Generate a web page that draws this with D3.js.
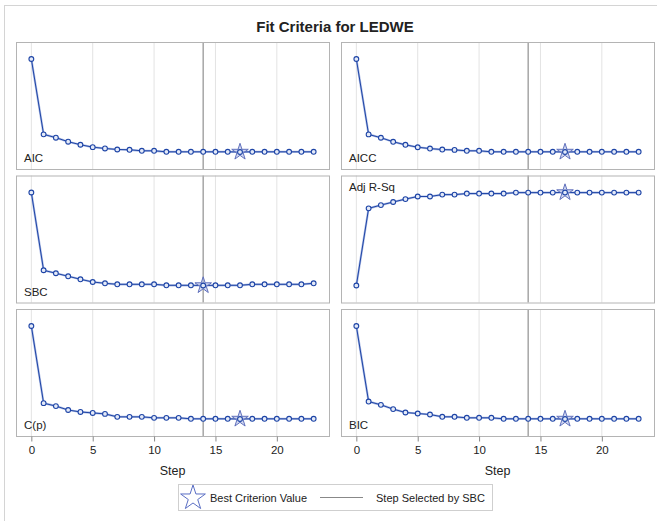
<!DOCTYPE html>
<html>
<head>
<meta charset="utf-8">
<script src="https://cdn.jsdelivr.net/npm/d3@7"></script>
<style>
  body { margin: 0; background: #fff; }
  text { font-family: Arial, "Liberation Sans", sans-serif; fill: #222; }
</style>
</head>
<body>
<script>
const steps = d3.range(0, 24);
const xTicks = [0, 5, 10, 15, 20];
const selectedStep = 14;

const aic  = [2372, 1625, 1592, 1552, 1522, 1498, 1485, 1475, 1472, 1462, 1462, 1452, 1452, 1452, 1452, 1452, 1452, 1450, 1452, 1452, 1452, 1452, 1452, 1452];
const aicc = [2373, 1627, 1594, 1554, 1524, 1500, 1487, 1477, 1474, 1465, 1465, 1455, 1455, 1455, 1455, 1455, 1455, 1453, 1455, 1455, 1455, 1455, 1455, 1455];
const sbc  = [2408, 1632, 1602, 1572, 1542, 1515, 1502, 1492, 1492, 1492, 1492, 1482, 1482, 1482, 1480, 1482, 1482, 1482, 1492, 1492, 1492, 1492, 1492, 1502];
const adjRsq = [0, 0.656, 0.684, 0.710, 0.735, 0.757, 0.757, 0.773, 0.773, 0.782, 0.782, 0.782, 0.782, 0.790, 0.790, 0.790, 0.790, 0.791, 0.790, 0.790, 0.790, 0.790, 0.790, 0.790];
const cp   = [972, 182, 152, 112, 92, 82, 72, 42, 42, 42, 32, 32, 32, 22, 22, 22, 22, 20, 22, 22, 22, 22, 22, 22];
const bic  = [2402, 1645, 1612, 1569, 1535, 1525, 1515, 1492, 1492, 1482, 1482, 1482, 1472, 1472, 1472, 1472, 1472, 1470, 1472, 1472, 1472, 1472, 1472, 1472];

const panels = [
  { name: "AIC", values: aic, col: 0, row: 0, best: "min" },
  { name: "AICC", values: aicc, col: 1, row: 0, best: "min" },
  { name: "SBC", values: sbc, col: 0, row: 1, best: "min" },
  { name: "Adj R-Sq", values: adjRsq, col: 1, row: 1, best: "max" },
  { name: "C(p)", values: cp, col: 0, row: 2, best: "min" },
  { name: "BIC", values: bic, col: 1, row: 2, best: "min" }
];

const W = 657, H = 521;
const colX = [16, 341];
const rowY = [42, 175.5, 309];
const pw = 313, ph = 127, pad = 17;
const lineColor = "#1d44a6";

const svg = d3.select("body").append("svg")
  .attr("width", W)
  .attr("height", H);

// outer frame
svg.append("rect")
  .attr("x", 4.5).attr("y", 5.5)
  .attr("width", 660).attr("height", 530)
  .attr("fill", "none")
  .attr("stroke", "#d4d4d4");

svg.append("text")
  .attr("x", 335)
  .attr("y", 32)
  .attr("text-anchor", "middle")
  .style("font-size", "15px")
  .style("font-weight", "bold")
  .text("Fit Criteria for LEDWE");

const star = d3.symbol().type(d3.symbolStar);

panels.forEach(p => {
  const x0 = colX[p.col], y0 = rowY[p.row];
  const x = d3.scaleLinear().domain([-1.25, 24.25]).range([0, pw]);
  const y = d3.scaleLinear().domain(d3.extent(p.values)).range([ph - pad, pad]);

  const g = svg.append("g").attr("transform", "translate(" + x0 + "," + y0 + ")");

  g.selectAll(".grid")
    .data(xTicks)
    .enter().append("line")
    .attr("x1", d => x(d)).attr("x2", d => x(d))
    .attr("y1", 0).attr("y2", ph)
    .attr("stroke", "#e3e3e3");

  g.append("line")
    .attr("x1", x(selectedStep)).attr("x2", x(selectedStep))
    .attr("y1", 0).attr("y2", ph)
    .attr("stroke", "#a6a6a6")
    .attr("stroke-width", 1.5);

  const line = d3.line()
    .x((d, i) => x(steps[i]))
    .y(d => y(d));

  g.append("path")
    .datum(p.values)
    .attr("d", line)
    .attr("fill", "none")
    .attr("stroke", "#aebce4")
    .attr("stroke-width", 2.2);

  g.append("path")
    .datum(p.values)
    .attr("d", line)
    .attr("fill", "none")
    .attr("stroke", lineColor)
    .attr("stroke-width", 1);

  const bestIdx = p.best == "min" ? d3.minIndex(p.values) : d3.maxIndex(p.values);
  g.append("path")
    .attr("d", star.size(85)())
    .attr("transform", "translate(" + x(steps[bestIdx]) + "," + y(p.values[bestIdx]) + ")")
    .attr("fill", "#b8c2ea")
    .attr("fill-opacity", 0.6)
    .attr("stroke", "#6070bc")
    .attr("stroke-width", 1);

  g.selectAll(".pt")
    .data(p.values)
    .enter().append("circle")
    .attr("cx", (d, i) => x(steps[i]))
    .attr("cy", d => y(d))
    .attr("r", 2.4)
    .attr("fill", "#e4eaf8")
    .attr("stroke", lineColor)
    .attr("stroke-width", 1.1);

  g.append("rect")
    .attr("x", 0.5).attr("y", 0.5)
    .attr("width", pw).attr("height", ph)
    .attr("fill", "none")
    .attr("stroke", "#b4b4b4");

  // criterion label, top-left for adj r-sq since curve sits low
  g.append("text")
    .attr("x", 8)
    .attr("y", p.best == "max" ? 15.5 : ph - 7)
    .style("font-size", "11.5px")
    .text(p.name);

  if (p.row == 2) {
    const ax = g.append("g")
      .attr("transform", "translate(0," + (ph + 0.5) + ")")
      .call(d3.axisBottom(x).tickValues(xTicks).tickSize(5).tickPadding(4));
    ax.select(".domain").remove();
    ax.selectAll("line").attr("stroke", "#888");
    ax.selectAll("text").style("font-size", "11.5px").attr("fill", "#222")
      .style("font-family", "Arial, 'Liberation Sans', sans-serif");

    g.append("text")
      .attr("x", x(11.5))
      .attr("y", ph + 39)
      .attr("text-anchor", "middle")
      .style("font-size", "12.5px")
      .text("Step");
  }
});

// legend
const legend = svg.append("g").attr("transform", "translate(178,484)");

legend.append("rect")
  .attr("x", 0.5).attr("y", 0.5)
  .attr("width", 314).attr("height", 26)
  .attr("fill", "none")
  .attr("stroke", "#cfcfcf");

legend.append("path")
  .attr("d", star.size(190)())
  .attr("transform", "translate(15,14)")
  .attr("fill", "none")
  .attr("stroke", "#5a6ec4")
  .attr("stroke-width", 1);

legend.append("text")
  .attr("x", 32).attr("y", 17.5)
  .style("font-size", "11px")
  .text("Best Criterion Value");

legend.append("line")
  .attr("x1", 142).attr("x2", 185)
  .attr("y1", 13.5).attr("y2", 13.5)
  .attr("stroke", "#888");

legend.append("text")
  .attr("x", 198).attr("y", 17.5)
  .style("font-size", "11px")
  .text("Step Selected by SBC");
</script>
</body>
</html>
